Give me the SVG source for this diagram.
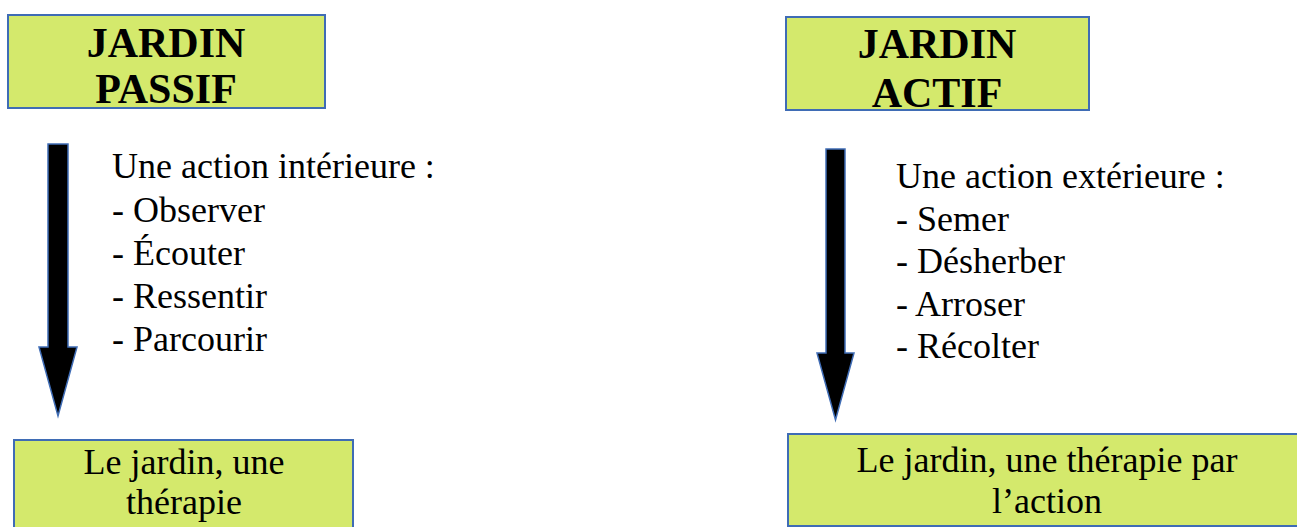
<svg xmlns="http://www.w3.org/2000/svg" width="1297" height="527" viewBox="0 0 1297 527">
<style>
.box{fill:#D4E96C;stroke:#3F6CB5;stroke-width:2}
.arrow{fill:#000;stroke:#3F6CB5;stroke-width:1.5}
.title{font-family:"Liberation Serif","Times New Roman",serif;font-weight:bold;font-size:42px;fill:#000;text-anchor:middle}
.body{font-family:"Liberation Serif","Times New Roman",serif;font-size:36px;fill:#000}
.mid{text-anchor:middle}
</style>
<rect width="1297" height="527" fill="#fff"/>
<g id="jardin-passif">
<rect class="box" x="8" y="15" width="317" height="93"/>
<text class="title" x="166" y="57">JARDIN</text>
<text class="title" x="166" y="103">PASSIF</text>
</g>
<g id="jardin-actif">
<rect class="box" x="786" y="17" width="303" height="93"/>
<text class="title" x="937" y="58">JARDIN</text>
<text class="title" x="937" y="107">ACTIF</text>
</g>
<g id="liste-passif">
<text class="body" x="112" y="178">Une action intérieure :</text>
<text class="body" x="112" y="222">- Observer</text>
<text class="body" x="112" y="265">- Écouter</text>
<text class="body" x="112" y="308">- Ressentir</text>
<text class="body" x="112" y="351">- Parcourir</text>
</g>
<g id="liste-actif">
<text class="body" x="896" y="188">Une action extérieure :</text>
<text class="body" x="896" y="231">- Semer</text>
<text class="body" x="896" y="273">- Désherber</text>
<text class="body" x="896" y="316">- Arroser</text>
<text class="body" x="896" y="358">- Récolter</text>
</g>
<g id="therapie-passif">
<rect class="box" x="14" y="440" width="339" height="100"/>
<text class="body mid" x="184" y="474">Le jardin, une</text>
<text class="body mid" x="184" y="514">thérapie</text>
</g>
<g id="therapie-actif">
<rect class="box" x="788" y="434" width="518" height="92"/>
<text class="body mid" x="1047" y="472">Le jardin, une thérapie par</text>
<text class="body mid" x="1047" y="513">l’action</text>
</g>
<g id="connectors">
<path class="arrow" d="M48,144 H68 V347 H77 L58,416 L39,347 H48 Z"/>
<path class="arrow" d="M826,149 H845 V353 H854 L835.5,420 L817,353 H826 Z"/>
</g>
</svg>
